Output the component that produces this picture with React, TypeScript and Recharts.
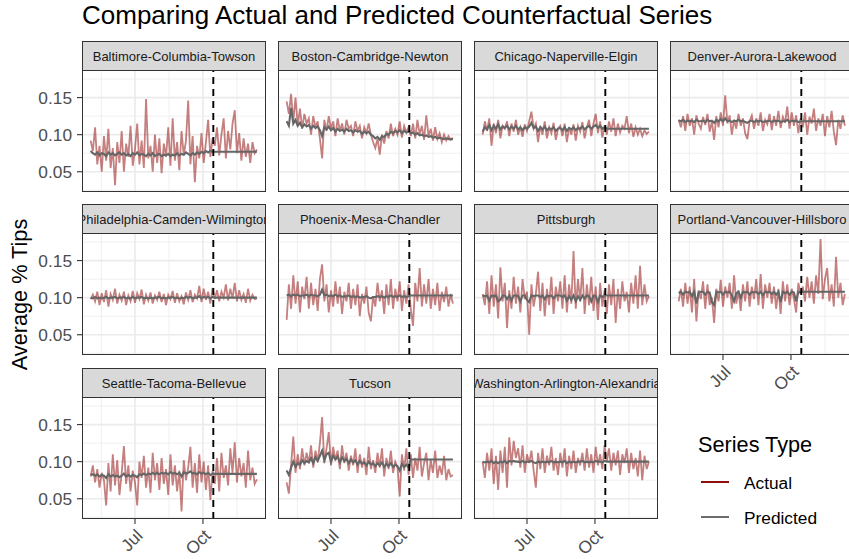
import React from "react";
import { LineChart, Line, XAxis, YAxis, CartesianGrid, ReferenceLine } from "recharts";

const FONT = '"Liberation Sans", Arial, Helvetica, sans-serif';

// x values are day of year (Jan 1 = 0), one reading every 3 days from May 1
const firstDay = 121;
const stepDays = 3;
const cutoffDay = 287; // Oct 14
const xDomain: [number, number] = [109.3, 358.3];
const yDomain: [number, number] = [0.0227, 0.1872];
const monthTicks = [181, 273];
const monthLabels = ["Jul", "Oct"];
const monthMinor = [135.5, 227, 319];
const yTicks = [0.05, 0.1, 0.15];
const yMinor = [0.025, 0.075, 0.125, 0.175];

const baltimoreActual = [
  0.092, 0.078, 0.110, 0.060, 0.085, 0.050, 0.098, 0.065, 0.108, 0.055,
  0.082, 0.032, 0.090, 0.062, 0.105, 0.050, 0.088, 0.070, 0.112, 0.058,
  0.080, 0.115, 0.060, 0.092, 0.055, 0.148, 0.068, 0.085, 0.050, 0.100,
  0.062, 0.095, 0.048, 0.088, 0.070, 0.110, 0.058, 0.122, 0.065, 0.090,
  0.052, 0.105, 0.072, 0.092, 0.146, 0.060, 0.098, 0.036, 0.085, 0.068,
  0.102, 0.062, 0.090, 0.120, 0.070, 0.095,
  0.085, 0.110, 0.072, 0.100, 0.122, 0.068, 0.105, 0.080, 0.115, 0.133,
  0.075, 0.102, 0.065, 0.095, 0.070, 0.088, 0.062, 0.090, 0.075, 0.080,
];
const baltimorePredicted = [
  0.078, 0.075, 0.073, 0.076, 0.072, 0.075, 0.074, 0.071, 0.076, 0.073,
  0.075, 0.072, 0.074, 0.076, 0.073, 0.075, 0.072, 0.074, 0.071, 0.075,
  0.073, 0.076, 0.072, 0.074, 0.073, 0.071, 0.074, 0.072, 0.075, 0.071,
  0.073, 0.074, 0.071, 0.073, 0.072, 0.074, 0.071, 0.073, 0.072, 0.075,
  0.072, 0.074, 0.073, 0.076, 0.074, 0.072, 0.075, 0.073, 0.076, 0.074,
  0.077, 0.075, 0.078, 0.076, 0.078, 0.077,
  0.077, 0.077, 0.077, 0.077, 0.077, 0.077, 0.077, 0.077, 0.077, 0.077,
  0.077, 0.077, 0.077, 0.077, 0.077, 0.077, 0.077, 0.077, 0.077, 0.077,
];

const bostonActual = [
  0.145, 0.128, 0.155, 0.118, 0.150, 0.112, 0.135, 0.108, 0.128, 0.115,
  0.122, 0.100, 0.125, 0.110, 0.118, 0.095, 0.068, 0.120, 0.105, 0.125,
  0.108, 0.118, 0.098, 0.122, 0.105, 0.115, 0.100, 0.120, 0.108, 0.112,
  0.098, 0.118, 0.105, 0.112, 0.095, 0.110, 0.102, 0.115, 0.100, 0.090,
  0.082, 0.095, 0.073, 0.100, 0.088, 0.105, 0.095, 0.115, 0.098, 0.108,
  0.100, 0.118, 0.096, 0.112, 0.103, 0.110,
  0.098, 0.115, 0.095, 0.120, 0.100, 0.112, 0.093, 0.126, 0.098, 0.108,
  0.092, 0.110, 0.094, 0.102, 0.090, 0.100, 0.092, 0.098, 0.093, 0.096,
];
const bostonPredicted = [
  0.118, 0.112, 0.136, 0.115, 0.120, 0.112, 0.116, 0.110, 0.114, 0.111,
  0.113, 0.108, 0.112, 0.109, 0.111, 0.106, 0.098, 0.110, 0.107, 0.111,
  0.106, 0.109, 0.104, 0.108, 0.105, 0.107, 0.104, 0.108, 0.105, 0.106,
  0.103, 0.106, 0.104, 0.105, 0.101, 0.104, 0.102, 0.104, 0.100, 0.098,
  0.095, 0.097, 0.093, 0.098, 0.097, 0.101, 0.100, 0.104, 0.102, 0.105,
  0.103, 0.106, 0.102, 0.105, 0.103, 0.104,
  0.102, 0.103, 0.100, 0.102, 0.099, 0.100, 0.098, 0.099, 0.097, 0.098,
  0.096, 0.097, 0.095, 0.096, 0.095, 0.094, 0.095, 0.094, 0.094, 0.094,
];

const chicagoActual = [
  0.100, 0.118, 0.105, 0.122, 0.085, 0.115, 0.102, 0.120, 0.095, 0.112,
  0.108, 0.118, 0.098, 0.115, 0.104, 0.120, 0.100, 0.110, 0.097, 0.114,
  0.105, 0.118, 0.131, 0.108, 0.115, 0.090, 0.112, 0.100, 0.118, 0.095,
  0.110, 0.102, 0.116, 0.093, 0.108, 0.112, 0.098, 0.115, 0.090, 0.110,
  0.100, 0.114, 0.092, 0.112, 0.104, 0.117, 0.095, 0.110, 0.120, 0.098,
  0.115, 0.128, 0.102, 0.118, 0.096, 0.112,
  0.100, 0.118, 0.104, 0.122, 0.098, 0.115, 0.103, 0.112, 0.108, 0.125,
  0.102, 0.115, 0.097, 0.110, 0.100, 0.108, 0.098, 0.106, 0.101, 0.104,
];
const chicagoPredicted = [
  0.104, 0.110, 0.107, 0.113, 0.106, 0.112, 0.108, 0.114, 0.107, 0.111,
  0.109, 0.112, 0.107, 0.111, 0.108, 0.112, 0.107, 0.110, 0.106, 0.110,
  0.108, 0.111, 0.116, 0.109, 0.111, 0.105, 0.110, 0.107, 0.111, 0.106,
  0.109, 0.107, 0.110, 0.105, 0.108, 0.109, 0.106, 0.110, 0.105, 0.109,
  0.107, 0.110, 0.106, 0.109, 0.108, 0.111, 0.107, 0.110, 0.112, 0.108,
  0.111, 0.113, 0.109, 0.112, 0.108, 0.110,
  0.108, 0.108, 0.108, 0.108, 0.108, 0.108, 0.108, 0.108, 0.108, 0.108,
  0.108, 0.108, 0.108, 0.108, 0.108, 0.108, 0.108, 0.108, 0.108, 0.108,
];

const denverActual = [
  0.120, 0.110, 0.125, 0.105, 0.128, 0.112, 0.122, 0.100, 0.126, 0.115,
  0.108, 0.124, 0.113, 0.128, 0.104, 0.118, 0.093, 0.125, 0.110, 0.130,
  0.112, 0.153, 0.115, 0.126, 0.100, 0.120, 0.108, 0.128, 0.112, 0.122,
  0.102, 0.094, 0.118, 0.126, 0.108, 0.122, 0.112, 0.130, 0.105, 0.120,
  0.114, 0.128, 0.106, 0.125, 0.112, 0.132, 0.109, 0.124, 0.116, 0.138,
  0.108, 0.130, 0.112, 0.126, 0.102, 0.122,
  0.110, 0.130, 0.100, 0.124, 0.115, 0.135, 0.105, 0.122, 0.112, 0.128,
  0.098, 0.125, 0.110, 0.132, 0.104, 0.086, 0.120, 0.108, 0.126, 0.112,
];
const denverPredicted = [
  0.119, 0.118, 0.120, 0.117, 0.119, 0.118, 0.119, 0.117, 0.120, 0.118,
  0.118, 0.119, 0.117, 0.120, 0.118, 0.119, 0.116, 0.120, 0.118, 0.121,
  0.118, 0.122, 0.118, 0.119, 0.117, 0.119, 0.118, 0.120, 0.118, 0.119,
  0.117, 0.116, 0.118, 0.119, 0.117, 0.119, 0.118, 0.119, 0.117, 0.118,
  0.118, 0.119, 0.117, 0.119, 0.118, 0.119, 0.117, 0.118, 0.118, 0.120,
  0.117, 0.119, 0.118, 0.119, 0.117, 0.118,
  0.118, 0.118, 0.118, 0.118, 0.118, 0.118, 0.118, 0.118, 0.118, 0.118,
  0.118, 0.118, 0.118, 0.118, 0.118, 0.118, 0.118, 0.118, 0.118, 0.118,
];

const philadelphiaActual = [
  0.098, 0.104, 0.095, 0.108, 0.090, 0.106, 0.094, 0.110, 0.088, 0.105,
  0.097, 0.112, 0.092, 0.104, 0.096, 0.108, 0.090, 0.103, 0.095, 0.109,
  0.093, 0.106, 0.098, 0.111, 0.091, 0.104, 0.096, 0.107, 0.092, 0.103,
  0.097, 0.108, 0.094, 0.105, 0.090, 0.104, 0.098, 0.109, 0.093, 0.106,
  0.095, 0.102, 0.091, 0.107, 0.097, 0.110, 0.094, 0.104, 0.099, 0.116,
  0.094, 0.112, 0.097, 0.108, 0.092, 0.113,
  0.098, 0.110, 0.095, 0.108, 0.100, 0.118, 0.096, 0.112, 0.099, 0.120,
  0.095, 0.110, 0.097, 0.105, 0.093, 0.112, 0.096, 0.104, 0.098, 0.099,
];
const philadelphiaPredicted = [
  0.100, 0.099, 0.101, 0.099, 0.100, 0.099, 0.100, 0.101, 0.099, 0.100,
  0.100, 0.101, 0.099, 0.100, 0.100, 0.101, 0.099, 0.100, 0.099, 0.101,
  0.099, 0.100, 0.100, 0.101, 0.099, 0.100, 0.099, 0.100, 0.099, 0.100,
  0.100, 0.101, 0.099, 0.100, 0.099, 0.100, 0.100, 0.101, 0.099, 0.100,
  0.099, 0.100, 0.099, 0.101, 0.100, 0.101, 0.099, 0.100, 0.100, 0.102,
  0.099, 0.101, 0.100, 0.101, 0.099, 0.101,
  0.100, 0.100, 0.100, 0.100, 0.100, 0.100, 0.100, 0.100, 0.100, 0.100,
  0.100, 0.100, 0.100, 0.100, 0.100, 0.100, 0.100, 0.100, 0.100, 0.100,
];

const phoenixActual = [
  0.070, 0.118, 0.085, 0.130, 0.092, 0.122, 0.080, 0.115, 0.098, 0.128,
  0.085, 0.120, 0.090, 0.112, 0.082, 0.125, 0.145, 0.095, 0.118, 0.080,
  0.110, 0.088, 0.122, 0.092, 0.115, 0.078, 0.108, 0.095, 0.120, 0.085,
  0.112, 0.090, 0.118, 0.075, 0.105, 0.092, 0.115, 0.080, 0.068, 0.102,
  0.088, 0.120, 0.095, 0.110, 0.078, 0.118, 0.090, 0.125, 0.085, 0.112,
  0.095, 0.122, 0.082, 0.110, 0.092, 0.118,
  0.085, 0.062, 0.120, 0.095, 0.140, 0.088, 0.118, 0.092, 0.125, 0.085,
  0.112, 0.090, 0.120, 0.082, 0.108, 0.094, 0.115, 0.088, 0.105, 0.092,
];
const phoenixPredicted = [
  0.103, 0.104, 0.102, 0.104, 0.103, 0.104, 0.102, 0.103, 0.103, 0.104,
  0.102, 0.104, 0.103, 0.103, 0.102, 0.104, 0.111, 0.103, 0.104, 0.102,
  0.103, 0.102, 0.104, 0.102, 0.103, 0.101, 0.102, 0.102, 0.103, 0.101,
  0.102, 0.101, 0.102, 0.100, 0.101, 0.101, 0.102, 0.100, 0.099, 0.101,
  0.101, 0.102, 0.101, 0.102, 0.100, 0.102, 0.101, 0.103, 0.101, 0.102,
  0.101, 0.103, 0.101, 0.102, 0.101, 0.102,
  0.103, 0.103, 0.103, 0.103, 0.103, 0.103, 0.103, 0.103, 0.103, 0.103,
  0.103, 0.103, 0.103, 0.103, 0.103, 0.103, 0.103, 0.103, 0.103, 0.103,
];

const pittsburghActual = [
  0.105, 0.090, 0.122, 0.078, 0.130, 0.088, 0.118, 0.072, 0.141, 0.095,
  0.120, 0.059, 0.110, 0.085, 0.128, 0.092, 0.115, 0.080, 0.125, 0.098,
  0.108, 0.050, 0.118, 0.088, 0.105, 0.135, 0.082, 0.120, 0.075, 0.112,
  0.090, 0.128, 0.078, 0.115, 0.095, 0.122, 0.085, 0.130, 0.080, 0.118,
  0.092, 0.163, 0.085, 0.125, 0.095, 0.140, 0.078, 0.118, 0.090, 0.128,
  0.082, 0.115, 0.070, 0.120, 0.088, 0.110,
  0.078, 0.118, 0.090, 0.125, 0.066, 0.112, 0.085, 0.122, 0.095, 0.108,
  0.080, 0.120, 0.092, 0.130, 0.085, 0.143, 0.090, 0.118, 0.095, 0.102,
];
const pittsburghPredicted = [
  0.103, 0.102, 0.103, 0.096, 0.103, 0.102, 0.103, 0.095, 0.097, 0.103,
  0.103, 0.098, 0.103, 0.096, 0.103, 0.103, 0.102, 0.095, 0.103, 0.103,
  0.097, 0.094, 0.103, 0.102, 0.103, 0.103, 0.101, 0.103, 0.098, 0.103,
  0.102, 0.103, 0.099, 0.103, 0.103, 0.103, 0.101, 0.103, 0.096, 0.102,
  0.097, 0.103, 0.095, 0.102, 0.097, 0.103, 0.099, 0.103, 0.102, 0.095,
  0.103, 0.102, 0.094, 0.103, 0.101, 0.103,
  0.103, 0.103, 0.103, 0.103, 0.103, 0.103, 0.103, 0.103, 0.103, 0.103,
  0.103, 0.103, 0.103, 0.103, 0.103, 0.103, 0.103, 0.103, 0.103, 0.103,
];

const portlandActual = [
  0.095, 0.112, 0.088, 0.120, 0.092, 0.115, 0.080, 0.125, 0.068, 0.110,
  0.098, 0.122, 0.085, 0.118, 0.090, 0.100, 0.066, 0.112, 0.095, 0.124,
  0.088, 0.115, 0.100, 0.120, 0.085, 0.130, 0.092, 0.110, 0.082, 0.118,
  0.095, 0.122, 0.088, 0.115, 0.098, 0.125, 0.090, 0.132, 0.085, 0.118,
  0.100, 0.120, 0.092, 0.115, 0.085, 0.112, 0.078, 0.122, 0.095, 0.118,
  0.090, 0.112, 0.098, 0.080, 0.120, 0.105,
  0.115, 0.095, 0.128, 0.100, 0.122, 0.092, 0.130, 0.105, 0.179, 0.098,
  0.125, 0.140, 0.095, 0.118, 0.088, 0.155, 0.100, 0.120, 0.090, 0.105,
];
const portlandPredicted = [
  0.106, 0.108, 0.104, 0.108, 0.107, 0.108, 0.102, 0.108, 0.092, 0.107,
  0.108, 0.108, 0.104, 0.108, 0.107, 0.094, 0.090, 0.108, 0.107, 0.108,
  0.104, 0.108, 0.107, 0.108, 0.103, 0.095, 0.106, 0.108, 0.100, 0.108,
  0.107, 0.108, 0.104, 0.108, 0.107, 0.108, 0.105, 0.108, 0.103, 0.108,
  0.107, 0.108, 0.105, 0.108, 0.104, 0.108, 0.094, 0.108, 0.106, 0.108,
  0.104, 0.108, 0.107, 0.095, 0.108, 0.107,
  0.108, 0.108, 0.108, 0.108, 0.108, 0.108, 0.108, 0.108, 0.108, 0.108,
  0.108, 0.108, 0.108, 0.108, 0.108, 0.108, 0.108, 0.108, 0.108, 0.108,
];

const seattleActual = [
  0.080, 0.095, 0.072, 0.090, 0.065, 0.085, 0.075, 0.041, 0.098, 0.060,
  0.110, 0.068, 0.102, 0.055, 0.085, 0.121, 0.070, 0.095, 0.060, 0.088,
  0.072, 0.041, 0.100, 0.078, 0.108, 0.065, 0.092, 0.058, 0.112, 0.075,
  0.098, 0.062, 0.105, 0.070, 0.090, 0.055, 0.110, 0.068, 0.095, 0.060,
  0.088, 0.033, 0.102, 0.075, 0.092, 0.120, 0.065, 0.098, 0.058, 0.110,
  0.072, 0.100, 0.062, 0.095, 0.048, 0.088,
  0.070, 0.105, 0.060, 0.112, 0.078, 0.095, 0.068, 0.118, 0.085, 0.126,
  0.072, 0.105, 0.080, 0.098, 0.065, 0.115, 0.075, 0.092, 0.070, 0.076,
];
const seattlePredicted = [
  0.082, 0.083, 0.081, 0.083, 0.080, 0.082, 0.081, 0.078, 0.083, 0.080,
  0.082, 0.080, 0.081, 0.079, 0.081, 0.084, 0.080, 0.082, 0.080, 0.082,
  0.081, 0.079, 0.083, 0.082, 0.084, 0.082, 0.084, 0.083, 0.085, 0.083,
  0.085, 0.083, 0.085, 0.084, 0.085, 0.083, 0.086, 0.084, 0.085, 0.083,
  0.085, 0.080, 0.086, 0.084, 0.085, 0.087, 0.084, 0.085, 0.083, 0.086,
  0.084, 0.085, 0.083, 0.085, 0.082, 0.084,
  0.0835, 0.0835, 0.0835, 0.0835, 0.0835, 0.0835, 0.0835, 0.0835, 0.0835, 0.0835,
  0.0835, 0.0835, 0.0835, 0.0835, 0.0835, 0.0835, 0.0835, 0.0835, 0.0835, 0.0835,
];

const tucsonActual = [
  0.072, 0.057, 0.095, 0.134, 0.085, 0.110, 0.090, 0.118, 0.095, 0.112,
  0.098, 0.122, 0.092, 0.115, 0.100, 0.125, 0.160, 0.098, 0.118, 0.140,
  0.095, 0.120, 0.102, 0.115, 0.090, 0.122, 0.098, 0.112, 0.088, 0.108,
  0.095, 0.118, 0.085, 0.110, 0.092, 0.105, 0.082, 0.120, 0.090, 0.102,
  0.085, 0.112, 0.092, 0.118, 0.080, 0.105, 0.090, 0.115, 0.085, 0.100,
  0.092, 0.053, 0.110, 0.088, 0.118, 0.082,
  0.110, 0.078, 0.105, 0.088, 0.120, 0.080, 0.098, 0.112, 0.075, 0.102,
  0.085, 0.115, 0.078, 0.095, 0.082, 0.108, 0.075, 0.090, 0.080, 0.082,
];
const tucsonPredicted = [
  0.088, 0.082, 0.092, 0.100, 0.093, 0.098, 0.096, 0.102, 0.098, 0.101,
  0.099, 0.105, 0.098, 0.106, 0.101, 0.108, 0.115, 0.102, 0.110, 0.112,
  0.100, 0.108, 0.103, 0.107, 0.099, 0.106, 0.101, 0.104, 0.098, 0.103,
  0.099, 0.102, 0.096, 0.101, 0.097, 0.099, 0.095, 0.100, 0.096, 0.098,
  0.094, 0.098, 0.095, 0.099, 0.093, 0.097, 0.094, 0.098, 0.093, 0.096,
  0.094, 0.088, 0.097, 0.093, 0.096, 0.092,
  0.103, 0.103, 0.103, 0.103, 0.103, 0.103, 0.103, 0.103, 0.103, 0.103,
  0.103, 0.103, 0.103, 0.103, 0.103, 0.103, 0.103, 0.103, 0.103, 0.103,
];

const washingtonActual = [
  0.100, 0.078, 0.112, 0.088, 0.118, 0.070, 0.108, 0.062, 0.115, 0.085,
  0.120, 0.065, 0.133, 0.095, 0.128, 0.105, 0.118, 0.092, 0.122, 0.085,
  0.110, 0.098, 0.115, 0.088, 0.065, 0.112, 0.090, 0.118, 0.085, 0.108,
  0.095, 0.120, 0.088, 0.105, 0.082, 0.112, 0.092, 0.118, 0.080, 0.108,
  0.090, 0.115, 0.085, 0.105, 0.095, 0.112, 0.088, 0.118, 0.092, 0.110,
  0.085, 0.120, 0.095, 0.110, 0.090, 0.122,
  0.100, 0.118, 0.088, 0.112, 0.095, 0.115, 0.082, 0.110, 0.098, 0.118,
  0.085, 0.112, 0.090, 0.105, 0.080, 0.115, 0.075, 0.108, 0.090, 0.100,
];
const washingtonPredicted = [
  0.100, 0.099, 0.100, 0.099, 0.101, 0.098, 0.100, 0.098, 0.100, 0.099,
  0.101, 0.098, 0.101, 0.100, 0.101, 0.100, 0.100, 0.099, 0.101, 0.099,
  0.100, 0.100, 0.101, 0.099, 0.098, 0.100, 0.099, 0.100, 0.099, 0.100,
  0.099, 0.101, 0.099, 0.100, 0.099, 0.100, 0.099, 0.101, 0.098, 0.100,
  0.099, 0.100, 0.099, 0.100, 0.100, 0.101, 0.099, 0.100, 0.099, 0.100,
  0.099, 0.101, 0.100, 0.100, 0.099, 0.101,
  0.100, 0.100, 0.100, 0.100, 0.100, 0.100, 0.100, 0.100, 0.100, 0.100,
  0.100, 0.100, 0.100, 0.100, 0.100, 0.100, 0.100, 0.100, 0.100, 0.100,
];

const panels = [
  { city: "Baltimore-Columbia-Towson", actual: baltimoreActual, predicted: baltimorePredicted },
  { city: "Boston-Cambridge-Newton", actual: bostonActual, predicted: bostonPredicted },
  { city: "Chicago-Naperville-Elgin", actual: chicagoActual, predicted: chicagoPredicted },
  { city: "Denver-Aurora-Lakewood", actual: denverActual, predicted: denverPredicted },
  { city: "Philadelphia-Camden-Wilmington", actual: philadelphiaActual, predicted: philadelphiaPredicted },
  { city: "Phoenix-Mesa-Chandler", actual: phoenixActual, predicted: phoenixPredicted },
  { city: "Pittsburgh", actual: pittsburghActual, predicted: pittsburghPredicted },
  { city: "Portland-Vancouver-Hillsboro", actual: portlandActual, predicted: portlandPredicted },
  { city: "Seattle-Tacoma-Bellevue", actual: seattleActual, predicted: seattlePredicted },
  { city: "Tucson", actual: tucsonActual, predicted: tucsonPredicted },
  { city: "Washington-Arlington-Alexandria", actual: washingtonActual, predicted: washingtonPredicted },
];

// facet layout
const colLeft = [82, 278, 474, 670];
const stripTop = [41, 204, 368];
const panelW = 184;
const stripH = 29;
const panelH = 122;
const yAxisW = 50;
const xAxisH = 45;

const ACTUAL = "#8B0000";
const PREDICTED = "#666666";
const GRID = "#ebebeb";

const MonthTick = (props: any) => {
  const { x, y, payload } = props;
  const label = monthLabels[monthTicks.indexOf(payload.value)];
  return (
    <text
      x={x}
      y={y}
      dy="0.72em"
      textAnchor="end"
      fontSize={17.3}
      fontFamily={FONT}
      fill="#4d4d4d"
      transform={`rotate(-45, ${x}, ${y})`}
    >
      {label}
    </text>
  );
};

const Panel = ({ k }: { k: number }) => {
  const p = panels[k];
  const row = Math.floor(k / 4);
  const col = k % 4;
  const showY = col === 0;
  const showX = row === 2 || (row === 1 && col === 3);
  const yw = showY ? yAxisW : 0;
  const xh = showX ? xAxisH : 0;
  const top = stripTop[row] + stripH;
  const data = p.actual.map((v, i) => ({
    day: firstDay + i * stepDays,
    actual: v,
    predicted: p.predicted[i],
  }));

  return (
    <>
      <div style={{ position: "absolute", left: colLeft[col] - yw, top, width: panelW + yw, height: panelH + xh }}>
        <LineChart width={panelW + yw} height={panelH + xh} data={data} margin={{ top: 0, right: 0, bottom: 0, left: 0 }}>
          <CartesianGrid stroke={GRID} strokeWidth={0.8} horizontalValues={yMinor} verticalValues={monthMinor} />
          <CartesianGrid stroke={GRID} strokeWidth={1.6} horizontalValues={yTicks} verticalValues={monthTicks} />
          <XAxis
            type="number"
            dataKey="day"
            domain={xDomain}
            allowDataOverflow
            ticks={monthTicks}
            hide={!showX}
            height={xh}
            axisLine={false}
            tickLine={{ stroke: "#333", strokeWidth: 1.1 }}
            tickSize={5}
            tickMargin={4}
            tick={<MonthTick />}
            interval={0}
          />
          <YAxis
            type="number"
            domain={yDomain}
            allowDataOverflow
            ticks={yTicks}
            hide={!showY}
            width={yw}
            axisLine={false}
            tickLine={{ stroke: "#333", strokeWidth: 1.1 }}
            tickSize={5}
            tickMargin={5}
            tickFormatter={(v: number) => v.toFixed(2)}
            tick={{ fontSize: 17.3, fill: "#4d4d4d", fontFamily: FONT }}
            interval={0}
          />
          <Line
            type="linear"
            dataKey="actual"
            stroke={ACTUAL}
            strokeOpacity={0.5}
            strokeWidth={1.8}
            dot={false}
            isAnimationActive={false}
          />
          <Line
            type="linear"
            dataKey="predicted"
            stroke={PREDICTED}
            strokeWidth={2.1}
            dot={false}
            isAnimationActive={false}
          />
          <ReferenceLine x={cutoffDay} stroke="#000" strokeWidth={1.9} strokeDasharray="7 5" />
        </LineChart>
      </div>
      <div
        style={{
          position: "absolute",
          left: colLeft[col],
          top,
          width: panelW,
          height: panelH,
          border: "1.3px solid #333",
          boxSizing: "border-box",
          pointerEvents: "none",
        }}
      />
      <div
        style={{
          position: "absolute",
          left: colLeft[col],
          top: stripTop[row],
          width: panelW,
          height: stripH + 1,
          background: "#d9d9d9",
          border: "1.3px solid #333",
          boxSizing: "border-box",
          display: "flex",
          justifyContent: "center",
          alignItems: "center",
          overflow: "hidden",
          whiteSpace: "nowrap",
          fontSize: 13,
          color: "#1a1a1a",
        }}
      >
        <span>{p.city}</span>
      </div>
    </>
  );
};

export default function App() {
  return (
    <div
      style={{
        position: "absolute",
        left: 0,
        top: 0,
        width: 849,
        height: 559,
        overflow: "hidden",
        background: "#fff",
        fontFamily: FONT,
      }}
    >
      <svg width={849} height={559} style={{ position: "absolute", left: 0, top: 0 }} fontFamily={FONT}>
        <text x={82} y={24} fontSize={26} fill="#000">
          Comparing Actual and Predicted Counterfactual Series
        </text>
        <text x={27} y={294.5} fontSize={21.7} fill="#000" textAnchor="middle" transform="rotate(-90, 27, 294.5)">
          Average % Tips
        </text>
        <text x={698} y={452} fontSize={21.7} fill="#000">
          Series Type
        </text>
        <line x1={701} x2={729} y1={482} y2={482} stroke={ACTUAL} strokeWidth={1.9} />
        <text x={744} y={489} fontSize={17.3} fill="#000">
          Actual
        </text>
        <line x1={701} x2={729} y1={517} y2={517} stroke={PREDICTED} strokeWidth={1.9} />
        <text x={744} y={524} fontSize={17.3} fill="#000">
          Predicted
        </text>
      </svg>
      {panels.map((_, k) => (
        <Panel key={k} k={k} />
      ))}
    </div>
  );
}
